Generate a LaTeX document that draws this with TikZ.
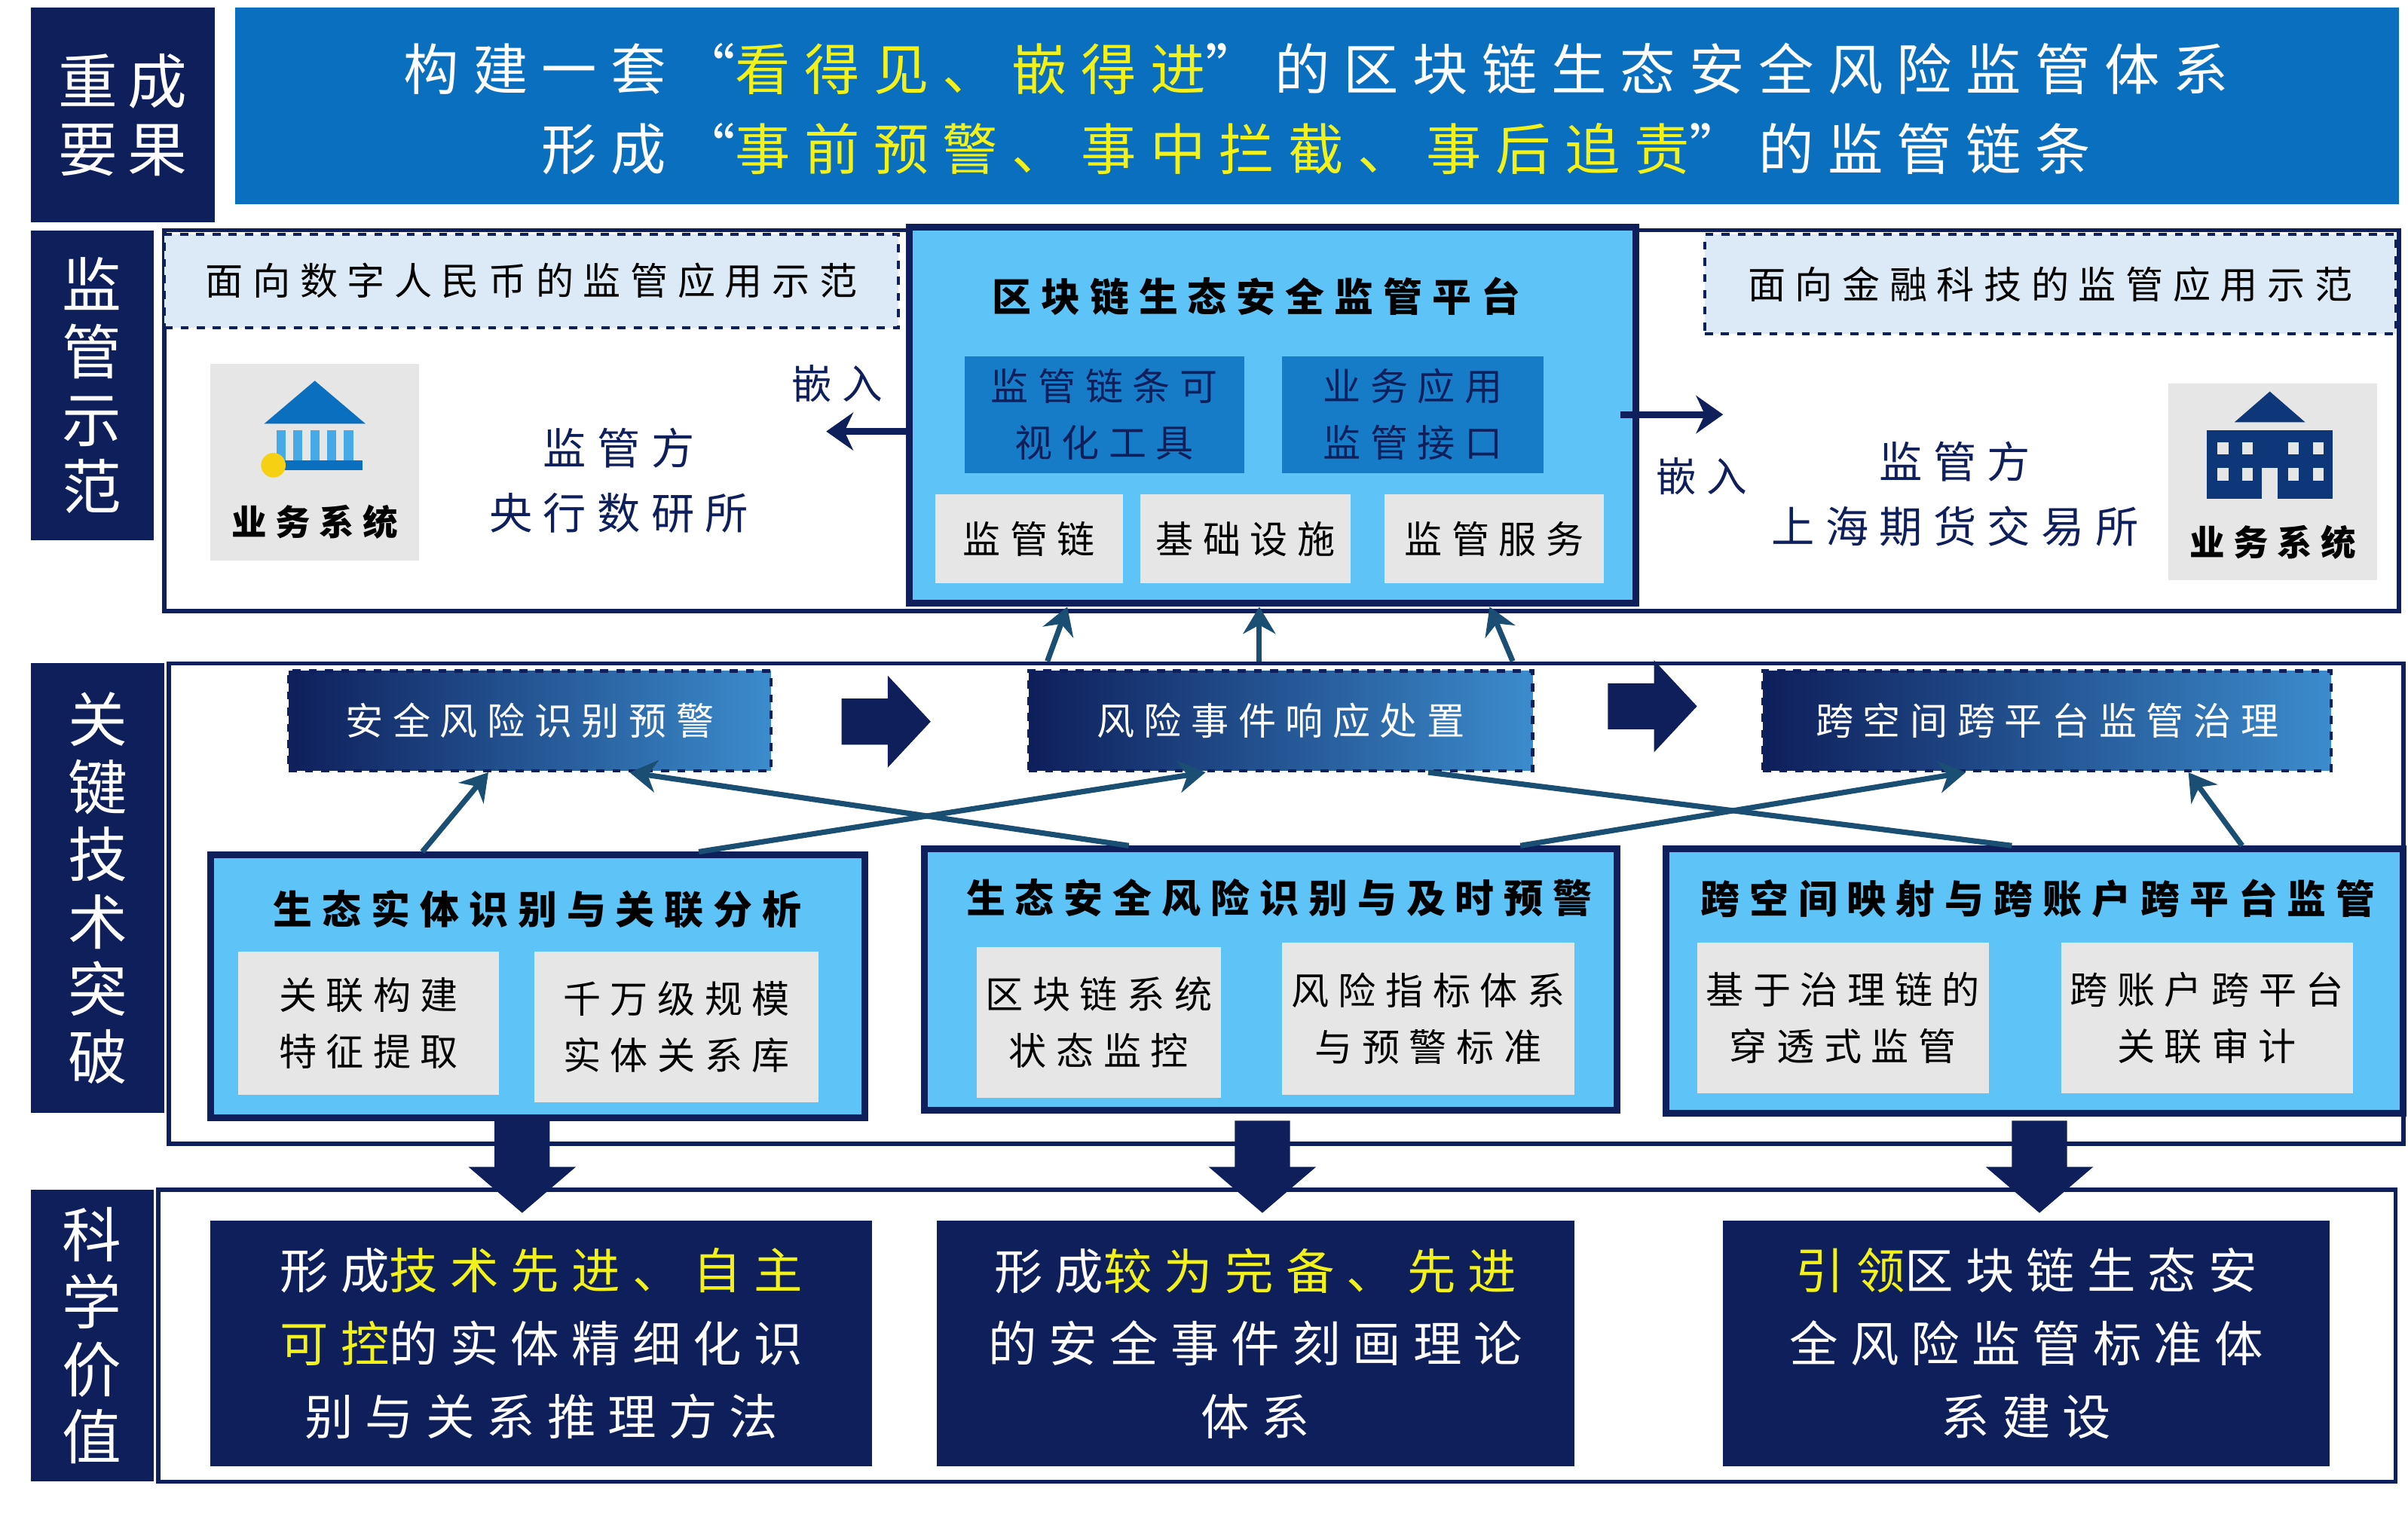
\documentclass[tikz,border=0pt]{standalone}
\usepackage{fontspec}
\setmainfont{Noto Sans CJK SC}[LetterSpace=25]
\usetikzlibrary{arrows.meta}
\definecolor{navy}{HTML}{0E1F5B}
\definecolor{tblue}{HTML}{0B6FC0}
\definecolor{lblue}{HTML}{5EC3F7}
\definecolor{pale}{HTML}{DCEAF8}
\definecolor{gbox}{HTML}{E6E6E6}
\definecolor{ylw}{HTML}{F2F21A}
\definecolor{conn}{HTML}{1A4E73}
\begin{document}
\begin{tikzpicture}[x=0.02cm,y=-0.02cm,
 fs/.style 2 args={font=\fontsize{#1}{#2}\selectfont},
 lab/.style={fill=navy,text=white,align=center,fs={22}{25},inner sep=0},
 outer/.style={draw=navy,line width=1.5pt,fill=white},
 dbox/.style={draw=navy,dashed,line width=1.2pt,fill=pale,fs={14}{18},text=black},
 gray/.style={fill=gbox,align=center,fs={14}{21},inner sep=0},
 plat/.style={draw=navy,line width=2.5pt,fill=lblue},
 tech/.style={draw=navy,dashed,line width=1.2pt,left color=navy,right color=tblue!80!white,text=white,fs={14}{18}},
 val/.style={fill=navy,text=white,align=center,fs={18}{27},inner sep=0},
 btit/.style={font=\bfseries\fontsize{14.5}{15}\selectfont},
 con/.style={conn,line width=2pt,-{Stealth[length=10pt,width=12pt]}}]
\useasboundingbox (0,0) rectangle (1568,987);
% row 1
\node[lab,minimum width=120*0.02cm,minimum height=140*0.02cm] (l1) at (80,75) {重\,成\\要\,果};
\node[fill=tblue,minimum width=1409*0.02cm,minimum height=128*0.02cm,inner sep=0] (ban) at (857.5,69) {};
\node[text=white,fs={20.5}{24}] (t1) at (857,45) {构建一套“\textcolor{ylw}{看得见、嵌得进}”的区块链生态安全风险监管体系};
\node[text=white,fs={20.5}{24}] (t2) at (857,97) {形成“\textcolor{ylw}{事前预警、事中拦截、事后追责}”的监管链条};
% row 2
\node[lab,minimum width=80*0.02cm,minimum height=202*0.02cm] (l2) at (60,251) {监\\管\\示\\范};
\node[outer,minimum width=1455*0.02cm,minimum height=248*0.02cm] (o2) at (834.5,274) {};
\node[dbox,minimum width=478*0.02cm,minimum height=61*0.02cm] (d1) at (346,183) {面向数字人民币的监管应用示范};
\node[dbox,minimum width=450*0.02cm,minimum height=65*0.02cm] (d2) at (1335,185) {面向金融科技的监管应用示范};
\node[plat,minimum width=473*0.02cm,minimum height=245*0.02cm] (pl) at (828.5,270.5) {};
\node[btit] (ptit) at (818,193) {区块链生态安全监管平台};
\node[fill=tblue!85!lblue,minimum width=182*0.02cm,minimum height=76*0.02cm,align=center,fs={14}{21},text=navy,inner sep=0] (p1) at (719,270) {监管链条可\\视化工具};
\node[fill=tblue!85!lblue,minimum width=170*0.02cm,minimum height=76*0.02cm,align=center,fs={14}{21},text=navy,inner sep=0] (p2) at (920,270) {业务应用\\监管接口};
\node[gray,minimum width=122*0.02cm,minimum height=58*0.02cm] (g1) at (670,351) {监管链};
\node[gray,minimum width=137*0.02cm,minimum height=58*0.02cm] (g2) at (811,351) {基础设施};
\node[gray,minimum width=143*0.02cm,minimum height=58*0.02cm] (g3) at (973,351) {监管服务};
\coordinate (eL) at (538,281); \coordinate (eR) at (1122,270);
\draw[navy,line width=2.5pt,-{Stealth[length=10pt,width=14pt]}] (pl.west|-eL) -- (eL);
\draw[navy,line width=2.5pt,-{Stealth[length=10pt,width=14pt]}] (1055,270) -- (eR);
\node[fs={15}{18},text=navy] (em1) at (545,250) {嵌入};
\node[fs={15}{18},text=navy] (em2) at (1108,310) {嵌入};
% left icon
\node[fill=gbox,minimum width=136*0.02cm,minimum height=128*0.02cm,inner sep=0] (ic1) at (205,301) {};
\fill[tblue] (172,276) -- (205,248) -- (238,276) -- cycle;
\foreach \i in {0,...,4} \fill[lblue!70!tblue] (180+\i*11,280) rectangle (186+\i*11,300);
\fill[tblue] (174,300) rectangle (236,306);
\fill[ylw!70!orange] (178,303) circle (8);
\node[font=\bfseries\fontsize{13}{13}\selectfont] (bs1) at (205,340) {业务系统};
\node[fs={16}{24},text=navy,align=center] (reg1) at (403,313) {监管方\\央行数研所};
% right icon
\node[fill=gbox,minimum width=136*0.02cm,minimum height=128*0.02cm,inner sep=0] (ic2) at (1480,314) {};
\fill[navy!70!tblue] (1455,275) -- (1478,255) -- (1501,275) -- cycle;
\fill[navy!70!tblue] (1437,280) rectangle (1519,325);
\foreach \a in {1444,1460,1490,1506} \foreach \b in {288,305} \fill[gbox] (\a,\b) rectangle (\a+7,\b+8);
\fill[gbox] (1473,305) rectangle (1483,325);
\node[font=\bfseries\fontsize{13}{13}\selectfont] (bs2) at (1480,353) {业务系统};
\node[fs={16}{24},text=navy,align=center] (reg2) at (1273,322) {监管方\\上海期货交易所};
% row 3
\node[lab,minimum width=87*0.02cm,minimum height=293*0.02cm] (l3) at (63.5,578.5) {关\\键\\技\\术\\突\\破};
\node[outer,minimum width=1455*0.02cm,minimum height=313*0.02cm] (o3) at (837.5,588.5) {};
\node[tech,minimum width=314*0.02cm,minimum height=65*0.02cm] (k1) at (345,469.5) {安全风险识别预警};
\node[tech,minimum width=328*0.02cm,minimum height=65*0.02cm] (k2) at (834,469.5) {风险事件响应处置};
\node[tech,minimum width=370*0.02cm,minimum height=65*0.02cm] (k3) at (1333,469.5) {跨空间跨平台监管治理};
\fill[navy] (548,455) -- (578,455) -- (578,440) -- (606,470) -- (578,500) -- (578,485) -- (548,485) -- cycle;
\fill[navy] (1047,445) -- (1077,445) -- (1077,430) -- (1105,460) -- (1077,490) -- (1077,475) -- (1047,475) -- cycle;
\node[plat,minimum width=426*0.02cm,minimum height=171*0.02cm] (A) at (350,642.5) {};
\node[btit] (At) at (350,592) {生态实体识别与关联分析};
\node[gray,minimum width=170*0.02cm,minimum height=93*0.02cm] (A1) at (240,666.5) {关联构建\\特征提取};
\node[gray,minimum width=185*0.02cm,minimum height=98*0.02cm] (A2) at (440.5,669) {千万级规模\\实体关系库};
\node[plat,minimum width=451*0.02cm,minimum height=170*0.02cm] (B) at (827.5,638) {};
\node[btit] (Bt) at (833,585) {生态安全风险识别与及时预警};
\node[gray,minimum width=159*0.02cm,minimum height=98*0.02cm] (B1) at (715.5,666) {区块链系统\\状态监控};
\node[gray,minimum width=190*0.02cm,minimum height=99*0.02cm] (B2) at (930,663.5) {风险指标体系\\与预警标准};
\node[plat,minimum width=480*0.02cm,minimum height=172*0.02cm] (C) at (1325,639) {};
\node[btit] (Ct) at (1327,585) {跨空间映射与跨账户跨平台监管};
\node[gray,minimum width=190*0.02cm,minimum height=98*0.02cm] (C1) at (1200,663) {基于治理链的\\穿透式监管};
\node[gray,minimum width=190*0.02cm,minimum height=98*0.02cm] (C2) at (1437,663) {跨账户跨平台\\关联审计};
% connectors
\draw[con] (A.north-|275,0) -- (k1.south-|318,0);
\draw[con] (A.north-|455,0) -- (k2.south-|785,0);
\draw[con] (B.north-|735,0) -- (k1.south-|410,0);
\draw[con] (B.north-|990,0) -- (k3.south-|1280,0);
\draw[conn,line width=2pt] (C.north-|1310,0) -- (k2.south-|930,0);
\draw[con] (C.north-|1460,0) -- (k3.south-|1425,0);
\draw[con] (o3.north-|682,0) -- (pl.south-|695,0);
\draw[con] (o3.north-|820,0) -- (pl.south-|820,0);
\draw[con] (o3.north-|985,0) -- (pl.south-|970,0);
% row 4
\node[lab,minimum width=80*0.02cm,minimum height=190*0.02cm] (l4) at (60,870) {科\\学\\价\\值};
\node[outer,minimum width=1457*0.02cm,minimum height=190*0.02cm] (o4) at (831.5,870) {};
\foreach \c in {340,822,1328}
  \fill[navy] (\c-18,730) -- (\c+18,730) -- (\c+18,760) -- (\c+35,760) -- (\c,790) -- (\c-35,760) -- (\c-18,760) -- cycle;
\node[val,minimum width=431*0.02cm,minimum height=160*0.02cm] (v1) at (352.5,875) {形成\textcolor{ylw}{技术先进、自主}\\\textcolor{ylw}{可控}的实体精细化识\\别与关系推理方法};
\node[val,minimum width=415*0.02cm,minimum height=160*0.02cm] (v2) at (817.5,875) {形成\textcolor{ylw}{较为完备、先进}\\的安全事件刻画理论\\体系};
\node[val,minimum width=395*0.02cm,minimum height=160*0.02cm] (v3) at (1319.5,875) {\textcolor{ylw}{引领}区块链生态安\\全风险监管标准体\\系建设};
\end{tikzpicture}
\end{document}
